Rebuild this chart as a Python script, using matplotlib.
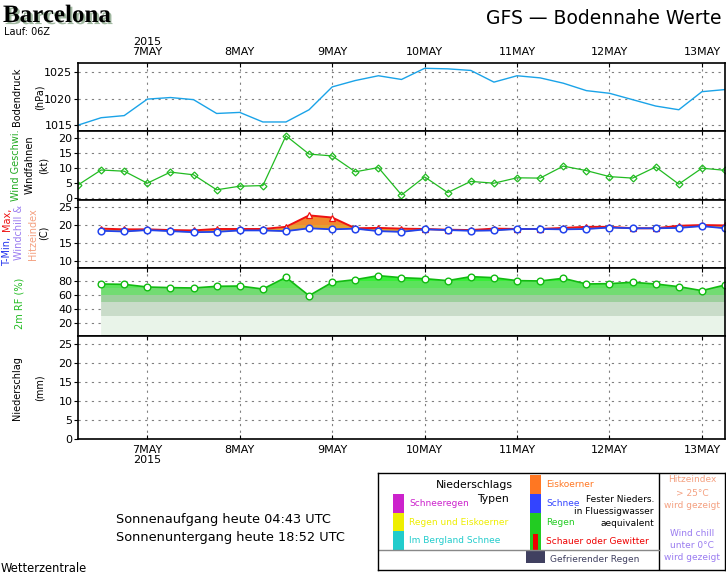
import numpy as np
import matplotlib
matplotlib.use("Agg")
import matplotlib.pyplot as plt
import matplotlib.patheffects as pe

# 6-hourly steps from 6 May 06Z
hours = np.arange(0, 169, 6)
day_hours = [18, 42, 66, 90, 114, 138, 162]
day_labels = ['7MAY', '8MAY', '9MAY', '10MAY', '11MAY', '12MAY', '13MAY']

pressure = [1015.0, 1016.4, 1016.8, 1019.9, 1020.2, 1019.8, 1017.2, 1017.4, 1015.6,
            1015.6, 1017.9, 1022.2, 1023.4, 1024.3, 1023.6, 1025.7, 1025.6, 1025.3,
            1023.1, 1024.3, 1023.9, 1022.9, 1021.5, 1021.0, 1019.8, 1018.6, 1017.9,
            1021.3, 1021.7]
wind = [4.4, 9.4, 9.0, 5.0, 8.7, 7.8, 2.8, 4.0, 4.2, 20.8, 14.7, 14.1, 8.8, 10.2,
        1.1, 7.1, 1.9, 5.6, 5.0, 6.8, 6.7, 10.7, 9.2, 7.2, 6.7, 10.4, 4.7, 10.0, 9.3]

# these start at 6 May 12Z
hours2 = hours[1:]
tmin = [18.4, 18.2, 18.6, 18.3, 18.0, 18.1, 18.5, 18.5, 18.3, 19.1, 18.8, 19.0, 18.3,
        18.1, 18.8, 18.6, 18.4, 18.5, 18.9, 18.9, 18.8, 18.9, 19.3, 19.1, 19.1, 19.2,
        19.7, 19.1]
tmax = [19.0, 18.8, 18.8, 18.6, 18.5, 18.9, 18.9, 18.9, 19.5, 22.7, 22.1, 19.1, 19.2,
        19.0, 18.9, 18.7, 18.6, 19.0, 18.9, 18.9, 19.2, 19.5, 19.5, 19.1, 19.1, 19.8,
        20.0, 19.9]
rh = [76.2, 75.7, 71.9, 71.0, 70.5, 72.9, 73.3, 69.0, 85.7, 59.5, 78.6, 82.4, 88.1,
      85.2, 83.8, 81.0, 86.7, 85.2, 81.0, 80.5, 84.3, 76.2, 76.7, 78.6, 76.2, 72.4,
      66.7, 74.8]
precip = [0.0] * 28

W, H = 726, 573
fig = plt.figure(figsize=(W / 100, H / 100), dpi=100)
fig.patch.set_facecolor('white')


def px(x, y):
    return x / W, 1 - y / H


def panel(top, bottom):
    return fig.add_axes([78 / W, 1 - bottom / H, 647 / W, (bottom - top) / H])


grid_kw = dict(color='#808080', linestyle=(0, (2, 4)), linewidth=0.8)

ax_p = panel(63, 131)
ax_w = panel(131, 200)
ax_t = panel(200, 268)
ax_r = panel(268, 336)
ax_n = panel(336, 439)
axes = [ax_p, ax_w, ax_t, ax_r, ax_n]

for ax in axes:
    ax.set_xlim(0, 168)
    ax.set_xticks(day_hours)
    ax.set_xticklabels([])
    ax.grid(True, **grid_kw)
    ax.set_axisbelow(True)
    ax.tick_params(axis='both', direction='out', length=3, width=0.8, labelsize=8, pad=1)
    ax.tick_params(axis='x', direction='in', length=3, top=True, pad=4)
    for s in ax.spines.values():
        s.set_linewidth(1.2)

# pressure
ax_p.plot(hours, pressure, color='#1aa3e8', lw=1.0)
ax_p.set_ylim(1013.9, 1026.7)
ax_p.set_yticks([1015, 1020, 1025])
ax_p.tick_params(axis='x', labeltop=True, labelbottom=False, labelsize=8)
ax_p.set_xticklabels(['2015\n7MAY'] + day_labels[1:], linespacing=1.05)

# wind
ax_w.plot(hours, wind, color='#22bb22', lw=0.9, marker='D', ms=3.5,
          mfc='none', mec='#22bb22', mew=0.9)
ax_w.set_ylim(-0.6, 22.4)
ax_w.set_yticks([0, 5, 10, 15, 20])

# temperature: fill between min and max, orange above 20 C
tfill = ax_t.fill_between(hours2, tmin, tmax, color='#e3a133', lw=0)
hot = ax_t.axhspan(20, 30, color='#f08a2e', lw=0)
hot.set_clip_path(tfill.get_paths()[0], transform=ax_t.transData)
ax_t.plot(hours2, tmax, color='#ee1111', lw=1.4, marker='^', ms=4.5,
          mfc='white', mec='#ee1111', mew=0.9)
ax_t.plot(hours2, tmin, color='#2244ee', lw=1.3, marker='o', ms=4.8,
          mfc='white', mec='#2244ee', mew=1.1)
ax_t.set_ylim(8, 27)
ax_t.set_yticks([10, 15, 20, 25])

# relative humidity: bands clipped to the area under the curve
bands = [(0, 30, '#e9f4e9'), (30, 50, '#c9dcc9'), (50, 60, '#9dcf9d'),
         (60, 70, '#72dc72'), (70, 80, '#5ce35c'), (80, 100, '#38ee38')]
under = ax_r.fill_between(hours2, 0, rh, color='none', lw=0)
for b0, b1, c in bands:
    band = ax_r.axhspan(b0, b1, color=c, lw=0)
    band.set_clip_path(under.get_paths()[0], transform=ax_r.transData)
ax_r.plot(hours2, rh, color='#11bb11', lw=1.2, marker='o', ms=4.8,
          mfc='white', mec='#11bb11', mew=1.0)
ax_r.set_ylim(2, 99)
ax_r.set_yticks([20, 40, 60, 80])
ax_r.grid(True, **grid_kw)

# precipitation
ax_n.bar(hours2, precip, width=5, color='#22cc22')
ax_n.set_ylim(0, 27.2)
ax_n.set_yticks([0, 5, 10, 15, 20, 25])
ax_n.set_xticklabels(['7MAY\n2015'] + day_labels[1:], linespacing=1.05)
ax_n.tick_params(axis='x', labelbottom=True, labelsize=8)

# left axis labels
lab = dict(rotation=90, ha='center', va='center', fontsize=7)
fig.text(*px(17, 97), 'Bodendruck', **lab)
fig.text(*px(40, 97), '(hPa)', **lab)
fig.text(*px(16, 165), 'Wind Geschwi.', color='#22aa22', **lab)
fig.text(*px(30, 165), 'Windfahnen', **lab)
fig.text(*px(44, 165), '(kt)', **lab)
fig.text(*px(7, 251), 'T-Min,', color='#2233ee', **lab)
fig.text(*px(7, 219), 'Max,', color='#ee1111', **lab)
fig.text(*px(19, 232), 'Windchill &', color='#9a7cf0', **lab)
fig.text(*px(33, 234), 'Hitzeindex', color='#f4a080', **lab)
fig.text(*px(44, 233), '(C)', **lab)
fig.text(*px(20, 303), '2m RF (%)', color='#22bb22', **lab)
fig.text(*px(17, 388), 'Niederschlag', **lab)
fig.text(*px(40, 388), '(mm)', **lab)

# titles
fig.text(*px(3, 22), 'Barcelona', fontsize=18, fontweight='bold', family='Liberation Serif',
         va='baseline', path_effects=[pe.withSimplePatchShadow(offset=(1.5, -1.5),
                                                               shadow_rgbFace='#a0b8a0', alpha=1)])
fig.text(*px(4, 35), 'Lauf: 06Z', fontsize=7, va='baseline')
fig.text(*px(722, 24), 'GFS \u2014 Bodennahe Werte', fontsize=13.5, ha='right', va='baseline')

fig.text(*px(116, 520), 'Sonnenaufgang heute 04:43 UTC', fontsize=9.3, va='center')
fig.text(*px(116, 537), 'Sonnenuntergang heute 18:52 UTC', fontsize=9.3, va='center')
fig.text(*px(1, 568), 'Wetterzentrale', fontsize=8.3, va='center')

# legend box
lg = fig.add_axes([378 / W, 1 - 570 / H, 347 / W, 97 / H])
lg.set_xlim(0, 347)
lg.set_ylim(97, 0)
lg.set_xticks([])
lg.set_yticks([])
for s in lg.spines.values():
    s.set_linewidth(1.0)
lg.axvline(281, color='black', lw=1.0)
lg.plot([0, 281], [77, 77], color='#888888', lw=1.0)

fs = 6.5
lg.text(96, 12, 'Niederschlags', fontsize=7.8, ha='center', va='center')
lg.text(131, 26, 'Typen', fontsize=7.8, ha='right', va='center')
sw_left = [('#cc22cc', 'Schneeregen'), ('#eeee00', 'Regen und Eiskoerner'),
           ('#22cccc', 'Im Bergland Schnee')]
for i, (c, t) in enumerate(sw_left):
    y0 = 21 + i * 18.7
    lg.add_patch(plt.Rectangle((15, y0), 11, 18.7, color=c, lw=0))
    lg.text(31, y0 + 9.5, t, color=c, fontsize=fs, va='center')
sw_right = [('#ff7722', 'Eiskoerner'), ('#3344ff', 'Schnee'), ('#22cc22', 'Regen')]
for i, (c, t) in enumerate(sw_right):
    y0 = 2 + i * 19
    lg.add_patch(plt.Rectangle((152, y0), 11, 19, color=c, lw=0))
    lg.text(168, y0 + 9.5, t, color=c, fontsize=fs, va='center')
lg.add_patch(plt.Rectangle((152, 59), 11, 18, color='#22cc22', lw=0))
lg.add_patch(plt.Rectangle((155, 61), 5, 16, color='#ee0000', lw=0))
lg.text(168, 68, 'Schauer oder Gewitter', color='#ee0000', fontsize=fs, va='center')
lg.text(276, 26, 'Fester Nieders.', fontsize=fs, ha='right', va='center')
lg.text(276, 39, 'in Fluessigwasser', fontsize=fs, ha='right', va='center')
lg.text(276, 51, 'aequivalent', fontsize=fs, ha='right', va='center')
lg.add_patch(plt.Rectangle((148, 78), 19, 12, color='#404060', lw=0))
lg.text(172, 87, 'Gefrierender Regen', color='#404060', fontsize=fs, va='center')
for y, t in [(7, 'Hitzeindex'), (20, '> 25\u00b0C'), (33, 'wird gezeigt')]:
    lg.text(314, y, t, color='#f4a080', fontsize=fs, ha='center', va='center')
for y, t in [(60, 'Wind chill'), (73, 'unter 0\u00b0C'), (85, 'wird gezeigt')]:
    lg.text(314, y, t, color='#9a7cf0', fontsize=fs, ha='center', va='center')

fig.savefig('out.png', dpi=100)
